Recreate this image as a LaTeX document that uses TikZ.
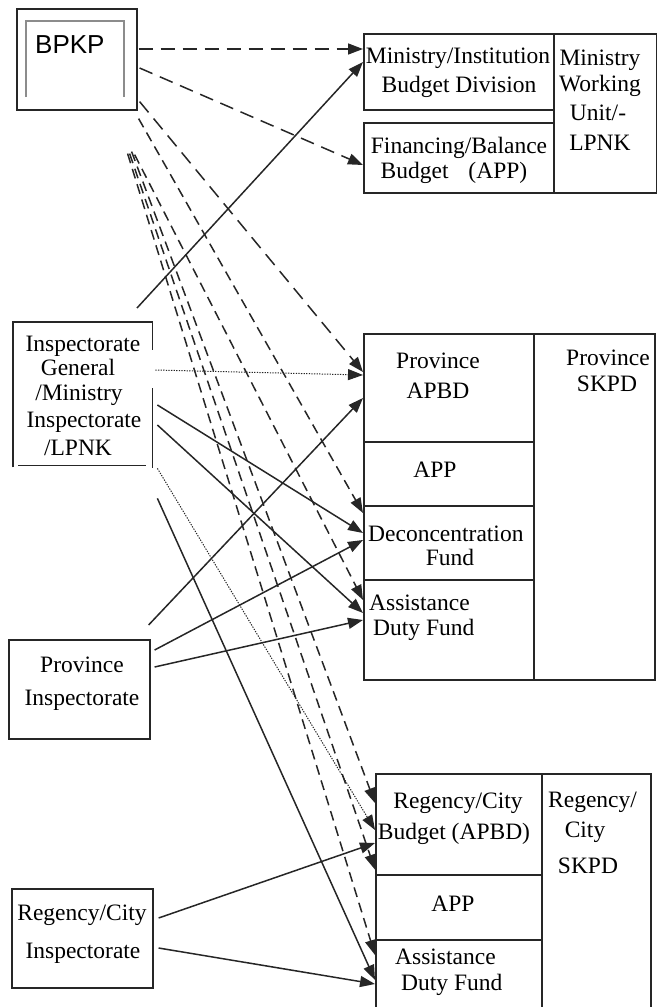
\documentclass[tikz,border=0pt]{standalone}
\usepackage{fontspec}
\setmainfont{Liberation Serif}
\newfontfamily\sansfam{Liberation Sans}
\usetikzlibrary{arrows.meta,calc}
\newcommand\bodyfont{\fontsize{23.5}{28}\selectfont}
\begin{document}
\begin{tikzpicture}[x=1pt,y=-1pt,
  cell/.style={draw=black!85, line width=1.6pt, inner sep=0pt, anchor=north west},
  hollow/.style={inner sep=0pt, anchor=north west},
  boxline/.style={draw=black!85, line width=1.6pt},
  lbl/.style={inner sep=0pt, anchor=base, font=\bodyfont, text=black},
  lbll/.style={lbl, anchor=base west},
  arr/.style={-{Triangle[length=15pt,width=11pt]}, line width=1.5pt, draw=black!85},
  dshlong/.style={arr, dash pattern=on 14pt off 8pt},
  dshshort/.style={arr, dash pattern=on 10pt off 6pt},
  dotline/.style={arr, line width=1pt, dash pattern=on 1.3pt off 1.3pt}]
\useasboundingbox (0,0) rectangle (657,1007);

% ---------- left boxes ----------
\node[cell, minimum width=120pt, minimum height=101pt] (bpkp) at (16,8) {};
\draw[black!45, line width=2pt] (26,97) -- (26,21) -- (124,21) -- (124,97);
\node[inner sep=0pt, anchor=base west, font=\sansfam\fontsize{26}{30}\selectfont, text=black] (bpkpT) at (35,53) {BPKP};

\node[hollow, minimum width=139pt, minimum height=145pt] (ig) at (13,322) {};
\draw[boxline] (ig.south west) -- (ig.north west) -- (ig.north east) -- ++(0,28);
\draw[boxline] ($(ig.north east)+(0,66)$) -- ($(ig.south east)+(0,1)$);
\draw[boxline] ($(ig.south west)+(5,-2)$) -- ($(ig.south east)+(-6,-2)$);
\node[lbl] (igA) at (83,351) {Inspectorate};
\node[lbl] (igB) at (78,375) {General};
\node[lbl] (igC) at (79,400) {/Ministry};
\node[lbl] (igD) at (84,427) {Inspectorate};
\node[lbl] (igE) at (78,455) {/LPNK};

\node[cell, minimum width=141pt, minimum height=99pt] (provinsp) at (8,639) {};
\node[lbl] (provinspA) at (82,672) {Province};
\node[lbl] (provinspB) at (82,705) {Inspectorate};

\node[cell, minimum width=141pt, minimum height=99pt] (reginsp) at (11,888) {};
\node[lbl] (reginspA) at (82,920) {Regency/City};
\node[lbl] (reginspB) at (83,958) {Inspectorate};

% ---------- top right group ----------
\node[cell, minimum width=190pt, minimum height=76pt] (mib) at (363,33) {};
\node[cell, minimum width=190pt, minimum height=70pt] (fb) at (363,122) {};
\node[cell, minimum width=102.5pt, minimum height=159pt] (mwu) at (553,33) {};
\node[lbl] (mibA) at (458,63) {Ministry/Institution};
\node[lbl] (mibB) at (459,92) {Budget Division};
\node[lbl] (fbA) at (459,153) {Financing/Balance};
\node[lbl] (fbB) at (454,178) {Budget\hspace{14pt} (APP)};
\node[lbl] (mwuA) at (600,65) {Ministry};
\node[lbl] (mwuB) at (600,91) {Working};
\node[lbl] (mwuC) at (598,120) {Unit/-};
\node[lbl] (mwuD) at (600,150) {LPNK};

% ---------- middle right group ----------
\node[cell, minimum width=170pt, minimum height=108pt] (papbd) at (363,333) {};
\node[cell, minimum width=170pt, minimum height=64pt] (papp) at (363,441) {};
\node[cell, minimum width=170pt, minimum height=74pt] (decon) at (363,505) {};
\node[cell, minimum width=170pt, minimum height=100pt] (assist) at (363,579) {};
\node[cell, minimum width=121pt, minimum height=346pt] (pskpd) at (533,333) {};
\node[lbl] (papbdA) at (438,368) {Province};
\node[lbl] (papbdB) at (438,398) {APBD};
\node[lbl] (pappA) at (435,477) {APP};
\node[lbll] (deconA) at (368,541) {Deconcentration};
\node[lbl] (deconB) at (450,565) {Fund};
\node[lbll] (assistA) at (369,610) {Assistance};
\node[lbll] (assistB) at (373,635) {Duty Fund};
\node[lbl] (pskpdA) at (608,365) {Province};
\node[lbl] (pskpdB) at (607,391) {SKPD};

% ---------- bottom right group ----------
\node[cell, minimum width=166pt, minimum height=101pt] (rapbd) at (375,773) {};
\node[cell, minimum width=166pt, minimum height=65pt] (rapp) at (375,874) {};
\node[cell, minimum width=166pt, minimum height=73pt] (rassist) at (375,939) {};
\node[cell, minimum width=109pt, minimum height=239pt] (rskpd) at (541,773) {};
\node[lbl] (rapbdA) at (458,808) {Regency/City};
\node[lbl] (rapbdB) at (454,839) {Budget (APBD)};
\node[lbl] (rappA) at (453,911) {APP};
\node[lbll] (rassistA) at (395,964) {Assistance};
\node[lbll] (rassistB) at (401,990) {Duty Fund};
\node[lbll] (rskpdA) at (548,807) {Regency/};
\node[lbl] (rskpdB) at (585,837) {City};
\node[lbl] (rskpdC) at (588,873) {SKPD};

% ---------- connectors from BPKP (dashed) ----------
\draw[dshlong] ($(bpkp.north east)+(1,41)$) -- ($(mib.north west)+(0,16)$);
\draw[dshlong] ($(bpkp.north east)+(2,60)$) -- ($(fb.north west)+(0,43)$);
\draw[dshlong] ($(bpkp.south east)+(2,-9)$) -- ($(papbd.north west)+(0,39)$);
\draw[dshshort] ($(bpkp.south east)+(1,8)$) -- ($(decon.north west)+(0,8)$);
\draw[dshshort] ($(bpkp.south east)+(-3,44)$) -- ($(assist.north west)+(0,21)$);
\draw[dshshort] ($(bpkp.south east)+(-6,41)$) -- ($(rapbd.north west)+(0,30)$);
\draw[dshshort] ($(bpkp.south east)+(-8,43)$) -- ($(rapbd.south west)+(0,-6)$);
\draw[dshshort] ($(bpkp.south east)+(-10,43)$) -- ($(rassist.north west)+(0,16)$);

% ---------- connectors from Inspectorate General ----------
\draw[arr] ($(ig.north west)+(124,-14)$) -- ($(mib.north west)+(0,29)$);
\draw[dotline] ($(ig.north east)+(3,48)$) -- ($(papbd.north west)+(0,42)$);
\draw[arr] ($(ig.north east)+(5,83)$) -- ($(decon.north west)+(0,28)$);
\draw[arr] ($(ig.north east)+(5,103)$) -- ($(assist.north west)+(0,34)$);
\draw[dotline] ($(ig.south east)+(5,1)$) -- ($(rapbd.north west)+(0,57)$);
\draw[arr] ($(ig.south east)+(5,31)$) -- ($(rassist.north west)+(0,41)$);

% ---------- connectors from Province Inspectorate ----------
\draw[arr] ($(provinsp.north east)+(-2,-14)$) -- ($(papbd.north west)+(0,65)$);
\draw[arr] ($(provinsp.north east)+(4,11)$) -- ($(decon.north west)+(0,35)$);
\draw[arr] ($(provinsp.north east)+(4,28)$) -- ($(assist.north west)+(0,41)$);

% ---------- connectors from Regency/City Inspectorate ----------
\draw[arr] ($(reginsp.north east)+(5,30)$) -- ($(rapbd.north west)+(0,70)$);
\draw[arr] ($(reginsp.north east)+(5,60)$) -- ($(rassist.north west)+(0,45)$);
\end{tikzpicture}
\end{document}
